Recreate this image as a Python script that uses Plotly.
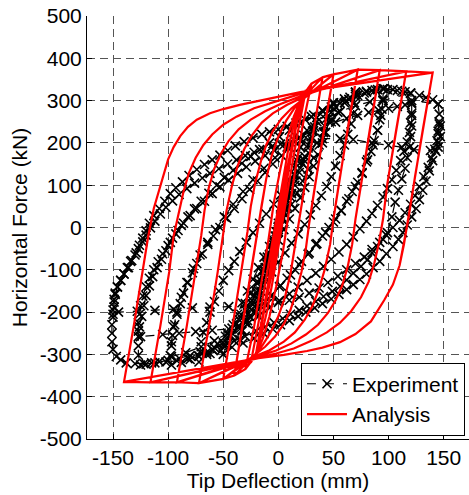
import plotly.graph_objects as go

# ---------------- Analysis (red): cyclic levels ----------------
red_amp = [6, 12, 20, 25, 30, 40, 50, 72, 92, 116, 140]
red_peak_pos = [100, 190, 298, 325, 340, 355, 362, 373, 372, 369, 366]
red_peak_neg = [-95, -185, -295, -320, -335, -350, -358, -368, -366, -366, -365]
red_cycles = [3, 3, 3, 3, 2, 2, 2, 2, 2, 2, 2]

# reloading branches (from the negative peak towards the positive side)
red_up_x = [
    [-6, -2, 2],
    [-12, -6, 0, 5, 9],
    [-20, -13, -7, 0, 6, 11, 16],
    [-25, -18, -11, -5, 0, 5, 10, 15, 20],
    [-30, -22, -15, -9, -4, 2, 8, 14, 20, 25],
    [-40, -32, -24, -19, -15, -11, -6, 0, 7, 14, 20],
    [-50, -41, -33, -28, -25, -21, -16, -11, -5, 3, 12, 20],
    [-72, -63, -55, -50, -47, -42, -37, -31, -24, -15, -5, 8, 20],
    [-92, -83, -75, -70, -67, -63, -58, -52, -45, -36, -25, -12, 2, 20],
    [-116, -107, -99, -95, -90, -86, -81, -75, -68, -60, -50, -38, -22, 0, 20],
    [-140, -131, -124, -118, -113, -109, -104, -100, -95, -89, -82, -74, -62, -50, -35, -19, 2, 20],
]
red_up_y = [
    [-95, -40, 25],
    [-185, -110, -25, 60, 130],
    [-295, -200, -110, -5, 90, 170, 240],
    [-320, -225, -120, -25, 55, 130, 200, 255, 300],
    [-335, -235, -130, -30, 60, 140, 210, 262, 300, 322],
    [-350, -225, -90, -10, 55, 115, 170, 215, 252, 280, 300],
    [-358, -225, -95, -10, 50, 105, 155, 195, 228, 258, 282, 298],
    [-368, -235, -105, -20, 40, 100, 145, 185, 218, 248, 270, 290, 305],
    [-366, -232, -105, -20, 40, 95, 140, 175, 205, 232, 255, 275, 292, 310],
    [-366, -232, -105, -20, 40, 85, 130, 165, 195, 220, 243, 262, 282, 300, 316],
    [-365, -230, -120, -20, 45, 82, 125, 161, 190, 216, 238, 255, 270, 280, 290, 299, 310, 320],
]

# unloading branches (from the positive peak towards the negative side)
red_dn_x = [
    [6, 2, -2],
    [12, 6, 0, -5, -9],
    [20, 13, 7, 0, -6, -11, -16],
    [25, 18, 11, 5, 0, -5, -10, -15, -20],
    [30, 22, 15, 9, 4, -2, -8, -14, -20, -25],
    [40, 32, 24, 19, 15, 11, 6, 0, -7, -14, -20],
    [50, 41, 33, 28, 25, 21, 16, 11, 5, -3, -12, -20],
    [72, 63, 55, 50, 47, 42, 37, 31, 24, 15, 5, -8, -20],
    [92, 83, 75, 70, 67, 63, 58, 52, 45, 36, 25, 12, -2, -20],
    [116, 107, 99, 95, 91, 87, 82, 75, 66, 56, 44, 30, 14, -2, -20],
    [140, 131, 124, 118, 114, 110, 104, 96, 84, 70, 56, 40, 26, 5, -18],
]
red_dn_y = [
    [100, 45, -20],
    [190, 115, 30, -55, -125],
    [298, 205, 115, 10, -85, -165, -235],
    [325, 230, 125, 30, -50, -125, -195, -250, -295],
    [340, 240, 130, 30, -60, -140, -210, -262, -300, -318],
    [355, 228, 95, 15, -50, -110, -165, -210, -248, -277, -298],
    [362, 225, 95, 10, -50, -105, -155, -195, -228, -258, -282, -298],
    [373, 235, 105, 20, -40, -100, -145, -185, -218, -248, -270, -290, -303],
    [372, 232, 105, 20, -40, -92, -137, -172, -202, -230, -253, -274, -291, -306],
    [369, 232, 105, 20, -40, -85, -128, -165, -198, -225, -248, -268, -286, -298, -309],
    [366, 230, 120, 20, -40, -90, -135, -172, -222, -252, -271, -284, -292, -301, -309],
]

# ---------------- Experiment (black): recorded loops ----------------
exp_x_10 = [0, 5, 10, 8, 6, 4, 2, 0, -2, -4, -6, -8, -10, -9, -8, -6, -4, -2, 0, 2, 4, 6, 8, 10]
exp_y_10 = [0, 60, 110, 90, 70, 48, 25, 3, -20, -42, -65, -88, -110, -92, -75, -52, -30, -10, 10, 30, 50, 68, 85, 110]
exp_x_20 = [20, 18, 15, 12, 8, 4, 0, -4, -8, -12, -15, -18, -20, -18, -16, -13, -9, -5, -1, 3, 7, 11, 14, 17, 20]
exp_y_20 = [190, 165, 140, 108, 75, 38, 0, -35, -70, -102, -135, -162, -190, -170, -150, -118, -85, -48, -10, 25,
            60, 92, 125, 158, 190]
exp_x_35 = [35, 33, 30, 27, 23, 19, 15, 11, 7, 3, 0, -4, -8, -12, -16, -20, -24, -27, -30, -33, -35, -33, -30, -26,
            -22, -18, -14, -10, -5, 0, 4, 8, 12, 16, 20, 24, 27, 31, 35]
exp_y_35 = [260, 238, 215, 188, 160, 130, 100, 72, 45, 20, -5, -35, -65, -95, -125, -152, -180, -202, -225, -245,
            -265, -242, -220, -190, -160, -130, -100, -70, -40, -10, 20, 50, 80, 110, 140, 168, 195, 228, 260]
exp_x_50 = [50, 48, 46, 43, 40, 36, 32, 28, 24, 20, 15, 10, 5, 0, -5, -10, -15, -20, -25, -30, -34, -38, -42, -46,
            -50, -48, -45, -41, -37, -33, -28, -23, -18, -13, -8, -3, 2, 7, 12, 17, 22, 27, 32, 37, 41, 46, 50]
exp_y_50 = [295, 272, 250, 225, 200, 172, 145, 120, 95, 70, 45, 20, -5, -30, -55, -80, -105, -130, -155, -180,
            -205, -228, -250, -275, -300, -278, -255, -230, -205, -178, -150, -122, -95, -70, -45, -20, 5, 30, 55,
            82, 110, 138, 165, 195, 225, 260, 295]
exp_x_70 = [70, 69, 68, 66, 63, 60, 56, 52, 48, 44, 39, 34, 29, 24, 18, 12, 6, 0, -6, -12, -18, -24, -30, -36,
            -42, -48, -55, -60, -65, -72, -71, -70, -68, -65, -62, -58, -54, -50, -45, -40, -35, -29, -23, -17,
            -11, -4, 2, 9, 15, 22, 28, 35, 41, 48, 54, 60, 65, 70]
exp_y_70 = [320, 295, 270, 245, 220, 195, 170, 145, 120, 97, 75, 52, 30, 7, -15, -37, -60, -82, -105, -127, -150,
            -172, -195, -217, -238, -257, -275, -288, -300, -318, -294, -270, -248, -225, -200, -175, -150, -125,
            -102, -80, -57, -35, -12, 10, 32, 55, 77, 100, 125, 150, 175, 200, 225, 250, 272, 295, 308, 320]
exp_x_95 = [95, 95, 94, 92, 90, 87, 84, 80, 76, 72, 67, 62, 57, 52, 46, 40, 34, 28, 21, 15, 8, 1, -6, -13, -20,
            -28, -35, -43, -50, -58, -65, -72, -80, -88, -97, -98, -97, -96, -94, -92, -89, -86, -82, -78, -74,
            -69, -64, -59, -53, -47, -40, -33, -26, -19, -12, -5, 3, 10, 18, 26, 35, 43, 52, 61, 70, 78, 85, 95]
exp_y_95 = [328, 304, 280, 255, 230, 205, 180, 155, 130, 107, 85, 62, 40, 20, 0, -20, -40, -60, -80, -100, -120,
            -140, -160, -180, -200, -220, -240, -256, -272, -284, -295, -304, -312, -319, -325, -303, -280, -255,
            -230, -205, -180, -155, -130, -107, -85, -62, -40, -20, 0, 22, 45, 68, 90, 110, 130, 150, 170, 190,
            210, 230, 250, 268, 285, 298, 310, 318, 324, 328]
exp_x_95b = [95, 93, 90, 86, 81, 76, 70, 64, 57, 50, 43, 35, 27, 19, 11, 2, -7, -16, -26, -36, -46, -58, -70, -84,
             -97, -97, -95, -92, -88, -83, -77, -71, -64, -57, -49, -41, -32, -23, -13, -3, 8, 19, 31, 43, 56, 70,
             83, 95]
exp_y_95b = [300, 265, 230, 195, 160, 128, 97, 68, 40, 13, -12, -38, -63, -88, -112, -137, -162, -186, -210, -232,
             -250, -268, -282, -296, -305, -270, -235, -200, -165, -130, -97, -65, -35, -5, 25, 55, 85, 113, 140,
             165, 190, 213, 236, 256, 274, 288, 297, 300]
exp_x_120 = [120, 121, 121, 121, 120, 119, 117, 115, 112, 109, 106, 103, 99, 95, 90, 85, 81, 75, 68, 62, 56, 49,
             41, 34, 26, 19, 11, 4, -4, -12, -20, -30, -40, -50, -60, -70, -80, -90, -100, -108, -115, -120, -125,
             -127, -127, -127, -126, -124, -122, -120, -117, -114, -110, -106, -102, -98, -93, -88, -82, -76, -70,
             -63, -56, -49, -41, -33, -25, -17, -8, 1, 10, 20, 30, 40, 50, 60, 70, 80, 90, 99, 108, 115, 120]
exp_y_120 = [318, 292, 265, 240, 215, 190, 165, 140, 115, 88, 60, 25, -12, -28, -45, -60, -76, -92, -108, -124,
             -139, -151, -163, -175, -186, -196, -205, -215, -225, -235, -245, -257, -268, -278, -288, -296, -303,
             -309, -314, -317, -320, -323, -325, -302, -280, -258, -235, -210, -185, -161, -138, -116, -95, -75,
             -55, -35, -15, 5, 25, 44, 62, 81, 100, 118, 135, 152, 168, 184, 200, 215, 230, 246, 262, 277, 292,
             304, 315, 322, 326, 326, 324, 321, 318]
exp_x_120b = [121, 121, 120, 119, 117, 114, 111, 107, 103, 99, 95, 90, 85, 80, 74, 68, 62, 55, 48, 41, 34, 26, 18,
              10, 1, -8, -18, -28, -36, -45, -60, -75, -90, -105, -125, -127, -127, -126, -125, -123, -120, -117,
              -113, -109, -105, -100, -96, -91, -86, -80, -74, -67, -60, -53, -45, -37, -29, -21, -12, -4, 5, 14,
              23, 32, 42, 52, 62, 72, 82, 91, 100, 108, 115, 121]
exp_y_120b = [295, 270, 248, 225, 202, 180, 158, 135, 113, 92, 72, 52, 33, 15, -3, -22, -40, -58, -75, -92, -108,
              -125, -141, -157, -173, -190, -210, -228, -237, -240, -243, -246, -250, -253, -258, -245, -225, -205,
              -185, -162, -140, -120, -100, -81, -62, -43, -25, -7, 10, 28, 45, 62, 80, 96, 112, 128, 143, 157, 170,
              183, 195, 207, 218, 229, 240, 249, 258, 265, 272, 277, 282, 286, 290, 300]
exp_x_145 = [145, 146, 146, 145, 145, 143, 140, 137, 134, 131, 128, 125, 121, 117, 113, 109, 104, 98, 92, 86, 80,
             74, 68, 62, 55, 48, 40, 33, 25, 18, 10, 2, -5, -13, -22, -32, -42, -52, -62, -72, -82, -92, -102,
             -112, -122, -130, -138, -143, -147, -150, -151, -151, -151, -150, -150, -149, -148, -146, -143, -140,
             -136, -133, -129, -126, -123, -120, -117, -113, -108, -103, -98, -93, -87, -81, -74, -67, -60, -53,
             -46, -39, -31, -23, -15, -8, 0, 8, 16, 24, 32, 40, 48, 56, 64, 72, 80, 88, 96, 104, 112, 120, 128,
             134, 140, 145]
exp_y_145 = [292, 268, 245, 222, 200, 180, 158, 134, 110, 88, 66, 45, 25, 6, -12, -28, -45, -62, -80, -95, -110,
             -123, -135, -147, -158, -169, -180, -190, -200, -210, -220, -230, -240, -251, -262, -273, -283, -291,
             -298, -305, -310, -315, -318, -320, -322, -322, -320, -313, -305, -288, -270, -250, -230, -212, -195,
             -176, -158, -141, -125, -110, -95, -78, -60, -42, -25, -8, 10, 28, 45, 62, 80, 94, 108, 123, 137,
             149, 160, 171, 182, 193, 203, 212, 220, 226, 232, 239, 247, 256, 266, 276, 285, 294, 303, 312, 320,
             325, 328, 326, 322, 317, 312, 307, 302, 292]
exp_x_145b = [146, 145, 144, 142, 139, 136, 132, 128, 124, 120, 115, 110, 104, 98, 92, 85, 78, 70, 62, 54, 45, 37,
              28, 19, 10, 0, -10, -20, -28, -45, -62, -78, -95, -112, -128, -145, -150, -149, -149, -148, -146,
              -143, -140, -137, -134, -130, -127, -123, -120, -116, -112, -107, -102, -96, -90, -83, -76, -69, -62,
              -54, -46, -38, -30, -22, -14, -6, 2, 11, 20, 30, 40, 56, 68, 85, 100, 112, 123, 138, 145, 147, 147]
exp_y_145b = [250, 228, 205, 185, 165, 142, 120, 97, 75, 55, 35, 17, 0, -18, -35, -52, -70, -85, -100, -115, -130,
              -143, -155, -165, -172, -177, -180, -183, -185, -187, -188, -190, -193, -196, -198, -200, -205, -188,
              -170, -155, -140, -125, -110, -95, -80, -65, -50, -34, -18, -1, 15, 32, 48, 63, 78, 92, 105, 117, 128,
              139, 150, 160, 170, 178, 185, 191, 197, 202, 206, 208, 210, 210, 208, 200, 195, 190, 184, 182, 190,
              215, 240]

# axis ticks
x_ticks = [-150, -100, -50, 0, 50, 100, 150]
y_ticks = [-500, -400, -300, -200, -100, 0, 100, 200, 300, 400, 500]

# ---------------- assemble the load paths ----------------
exp_loops = [
    (exp_x_10, exp_y_10), (exp_x_20, exp_y_20), (exp_x_35, exp_y_35), (exp_x_50, exp_y_50),
    (exp_x_70, exp_y_70), (exp_x_95, exp_y_95), (exp_x_95b, exp_y_95b),
    (exp_x_120, exp_y_120), (exp_x_120b, exp_y_120b),
    (exp_x_145, exp_y_145), (exp_x_145b, exp_y_145b),
]
ex, ey = [], []
for lx, ly in exp_loops:
    ex += lx
    ey += ly

rx, ry = [0], [0]
for k, amp in enumerate(red_amp):
    for cyc in range(red_cycles[k]):
        memory = cyc == 0 and amp >= 40
        if memory:
            # reloading passes the previous reversal point before reaching the new peak
            rx.append(red_amp[k - 1]); ry.append(red_peak_pos[k - 1])
        rx.append(amp); ry.append(red_peak_pos[k])
        rx += red_dn_x[k]; ry += red_dn_y[k]
        if memory:
            rx.append(-red_amp[k - 1]); ry.append(red_peak_neg[k - 1])
        rx.append(-amp); ry.append(red_peak_neg[k])
        rx += red_up_x[k]; ry += red_up_y[k]
rx.append(red_amp[-1]); ry.append(red_peak_pos[-1])

# ---------------- figure ----------------
fig = go.Figure()
fig.add_trace(go.Scatter(
    x=ex, y=ey, mode="lines+markers", name="Experiment",
    line=dict(color="black", width=1.2, dash="dash"),
    marker=dict(symbol="x-thin", size=9, line=dict(color="black", width=1.6)),
))
fig.add_trace(go.Scatter(
    x=rx, y=ry, mode="lines", name="Analysis",
    line=dict(color="red", width=2.2),
))

axis_common = dict(
    showgrid=True, gridcolor="#555555", gridwidth=1, griddash="8px,5px",
    zeroline=False, showline=True, linecolor="black", linewidth=1,
    ticks="inside", ticklen=5, tickcolor="black", mirror=False,
    tickfont=dict(size=21, color="black"),
)
fig.update_layout(
    width=469, height=495,
    margin=dict(l=87, r=0, t=16, b=56),
    paper_bgcolor="white", plot_bgcolor="white",
    font=dict(family="Liberation Sans, Arial, sans-serif", size=21, color="black"),
    xaxis=dict(range=[-173.6, 173], tickvals=x_ticks, ticktext=[str(v) for v in x_ticks],
               title=dict(text="Tip Deflection (mm)", font=dict(size=21), standoff=2),
               ticklabelstandoff=0, **axis_common),
    yaxis=dict(range=[-500, 500], tickvals=y_ticks, ticktext=[str(v) for v in y_ticks],
               title=dict(text="Horizontal Force (kN)", font=dict(size=21), standoff=6),
               **axis_common),
    legend=dict(x=0.9895, y=0.008, xanchor="right", yanchor="bottom",
                bgcolor="white", bordercolor="black", borderwidth=1,
                font=dict(size=21), itemwidth=40, tracegroupgap=0),
    showlegend=True,
)
fig.write_html("out.html")
